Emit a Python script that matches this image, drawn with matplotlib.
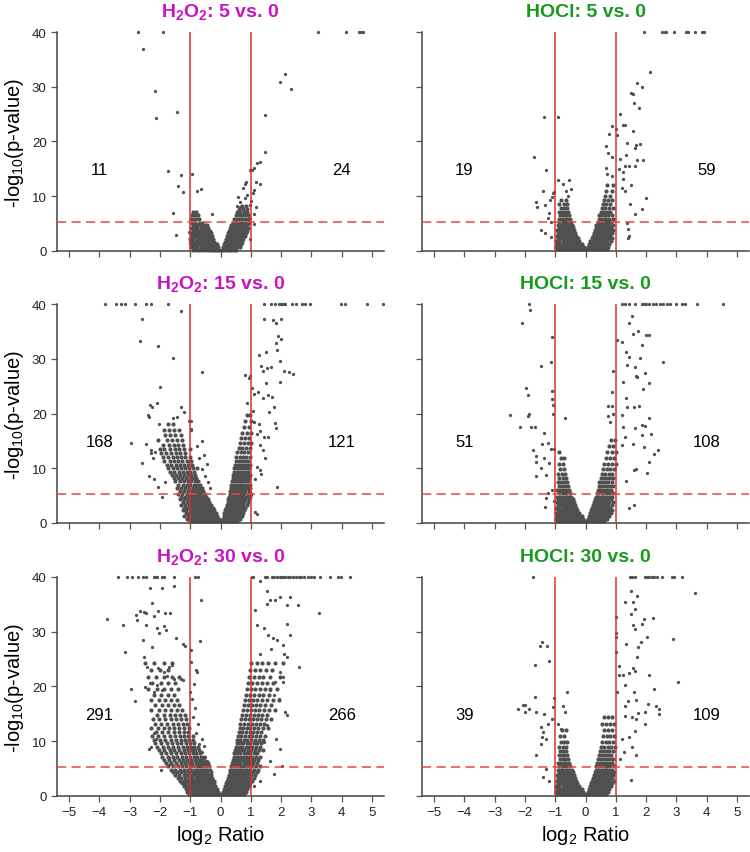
import numpy as np
import matplotlib
matplotlib.use('Agg')
import matplotlib.pyplot as plt

plt.rcParams['font.family'] = ['Liberation Sans', 'DejaVu Sans']
plt.rcParams['mathtext.fontset'] = 'custom'
plt.rcParams['mathtext.rm'] = 'Liberation Sans'
plt.rcParams['mathtext.bf'] = 'Liberation Sans:bold'
plt.rcParams['mathtext.default'] = 'regular'

# panel titles / counts (left, right of the thresholds)
titles = [r'H$_\mathbf{2}$O$_\mathbf{2}$: 5 vs. 0', 'HOCl: 5 vs. 0',
          r'H$_\mathbf{2}$O$_\mathbf{2}$: 15 vs. 0', 'HOCl: 15 vs. 0',
          r'H$_\mathbf{2}$O$_\mathbf{2}$: 30 vs. 0', 'HOCl: 30 vs. 0']
n_down = [11, 19, 168, 51, 291, 39]
n_up = [24, 59, 121, 108, 266, 109]
fc_cut = 1.0
p_cut = 5.3

# ---- H2O2 5 vs 0 ----
h2o2_5_pts = [(-2.73, 40), (-1.90, 40), (3.22, 40), (4.14, 40), (4.59, 40), (4.65, 40), (4.69, 40),
              (-2.56, 36.9), (-2.16, 29.3), (-2.12, 24.3), (-1.45, 25.3), (-1.73, 14.6), (-1.30, 13.8),
              (-1.41, 11.8), (-1.24, 10.8), (-1.58, 7.0), (-1.46, 3.0), (-0.93, 14.1), (-0.77, 11.0),
              (-0.66, 11.4), (-0.29, 6.8), (1.96, 30.9), (2.14, 32.3), (2.34, 29.6), (1.47, 24.9),
              (1.48, 18.0), (1.19, 16.0), (1.31, 16.3), (1.05, 14.8), (0.98, 14.8), (1.11, 15.1),
              (0.85, 12.6), (1.18, 12.6), (1.32, 12.3), (0.80, 12.2), (0.74, 11.5), (1.09, 11.2),
              (1.07, 10.6), (0.86, 10.3), (0.57, 9.8), (1.01, 9.1), (0.99, 8.4), (0.80, 9.6),
              (0.66, 8.9), (0.66, 8.1), (0.53, 8.2), (1.16, 8.0), (1.12, 6.7), (0.97, 6.0),
              (1.10, 4.9), (0.99, 2.1), (-1.02, 1.8), (-1.05, 3.5), (-1.0, 1.5)]
h2o2_5_rows = [(0.2, [-0.92, -0.8, -0.7, -0.6, -0.5, -0.42, -0.33, -0.25, -0.17, -0.1, -0.04,
                      0.05, 0.12, 0.2, 0.28, 0.36, 0.44, 0.52]),
               (0.7, [-0.97, -0.86, -0.76, -0.66, -0.57, -0.47, -0.38, -0.3, -0.22, -0.14, -0.07,
                      0.08, 0.16, 0.24, 0.32, 0.4, 0.48, 0.56, 0.64]),
               (1.2, [-0.99, -0.9, -0.8, -0.7, -0.6, -0.52, -0.43, -0.34, -0.26, -0.18, -0.11,
                      0.12, 0.2, 0.28, 0.36, 0.44, 0.52, 0.6, 0.68]),
               (1.7, [-0.95, -0.85, -0.74, -0.64, -0.55, -0.46, -0.37, -0.28, -0.2,
                      0.15, 0.23, 0.31, 0.39, 0.47, 0.55, 0.63, 0.72]),
               (2.2, [-1.0, -0.9, -0.79, -0.69, -0.59, -0.5, -0.41, -0.32, -0.24,
                      0.18, 0.26, 0.34, 0.42, 0.5, 0.58, 0.66, 0.75]),
               (2.7, [-0.94, -0.84, -0.73, -0.63, -0.54, -0.45, -0.36, -0.28,
                      0.22, 0.3, 0.38, 0.46, 0.54, 0.62, 0.7, 0.8]),
               (3.2, [-0.98, -0.88, -0.78, -0.68, -0.58, -0.49, -0.4, -0.32,
                      0.25, 0.33, 0.41, 0.49, 0.57, 0.65, 0.73, 0.84]),
               (3.7, [-0.92, -0.82, -0.72, -0.62, -0.53, -0.44, -0.36,
                      0.28, 0.36, 0.44, 0.52, 0.6, 0.68, 0.77, 0.88]),
               (4.2, [-0.96, -0.86, -0.76, -0.66, -0.57, -0.48, -0.4,
                      0.31, 0.39, 0.47, 0.55, 0.63, 0.71, 0.8, 0.9]),
               (4.7, [-0.9, -0.8, -0.7, -0.6, -0.5, -0.43,
                      0.35, 0.43, 0.51, 0.59, 0.67, 0.76, 0.86]),
               (5.2, [-0.95, -0.83, -0.72, -0.62, 0.4, 0.48, 0.56, 0.64, 0.73, 0.84, 0.95]),
               (5.8, [-0.98, -0.88, -0.8, -0.7, 0.45, 0.54, 0.63, 0.72, 0.82, 0.92]),
               (6.5, [-0.93, -0.85, -0.75, 0.5, 0.6, 0.7, 0.8, 0.9]),
               (7.1, [-0.9, -0.82, 0.55, 0.66, 0.78, 0.88]),
               (7.6, [0.62, 0.75, 0.86]),
               (8.3, [0.7, 0.83])]

# ---- HOCl 5 vs 0 ----
hocl_5_pts = [(1.92, 40), (2.53, 40), (2.62, 40), (2.66, 40), (2.91, 40), (3.32, 40), (3.40, 40),
              (3.62, 40), (3.84, 40), (3.91, 40), (2.14, 32.7), (1.69, 30.6), (1.86, 29.9),
              (1.51, 28.8), (1.56, 28.7), (1.59, 27.1), (1.76, 26.2), (1.15, 25.0), (0.89, 22.9),
              (1.01, 22.3), (1.24, 23.1), (1.30, 23.0), (1.57, 22.0), (0.79, 21.3), (1.04, 21.2),
              (0.67, 19.1), (1.38, 19.8), (1.67, 19.4), (1.81, 19.5), (1.62, 18.8), (0.74, 17.9),
              (0.86, 17.1), (1.33, 17.6), (1.14, 16.8), (1.71, 16.7), (1.89, 16.7), (1.30, 15.5),
              (1.42, 15.5), (1.23, 14.5), (1.65, 15.5), (1.10, 14.9), (0.68, 15.2), (0.70, 14.0),
              (0.88, 13.7), (1.25, 13.1), (1.49, 12.1), (1.21, 11.5), (1.30, 10.9), (1.99, 9.6),
              (1.86, 7.6), (1.62, 6.8), (1.46, 8.5), (1.37, 5.2), (1.41, 4.0), (1.45, 2.7),
              (1.41, 2.4), (-1.38, 24.5), (-0.90, 24.4), (-1.70, 17.1), (-1.30, 14.8),
              (-1.40, 11.0), (-1.63, 8.9), (-1.61, 8.1), (-1.33, 8.4), (-1.18, 9.3), (-1.08, 10.5),
              (-1.04, 10.8), (-1.11, 9.9), (-0.90, 13.0), (-0.55, 12.9), (-0.75, 12.2),
              (-0.47, 11.4), (-0.64, 11.0), (-0.57, 10.1), (-1.46, 3.8), (-1.34, 3.2),
              (-1.14, 2.6), (-1.13, 5.3), (-1.24, 6.1), (-1.21, 7.0)]
hocl_5_rows = [(0.3, [-0.95, -0.85, -0.75, -0.65, -0.55, -0.46, -0.37, -0.28, -0.19, -0.1, -0.03,
                      0.04, 0.12, 0.2, 0.28, 0.36, 0.44, 0.52, 0.6, 0.7]),
               (0.8, [-0.98, -0.88, -0.78, -0.68, -0.58, -0.49, -0.4, -0.31, -0.22, -0.13, -0.06,
                      0.08, 0.16, 0.24, 0.32, 0.4, 0.48, 0.56, 0.64, 0.74]),
               (1.3, [-0.93, -0.83, -0.73, -0.63, -0.54, -0.45, -0.36, -0.27, -0.18, -0.1,
                      0.12, 0.2, 0.28, 0.36, 0.44, 0.52, 0.6, 0.68, 0.78]),
               (1.8, [-0.96, -0.86, -0.76, -0.66, -0.57, -0.48, -0.39, -0.3, -0.21,
                      0.16, 0.24, 0.32, 0.4, 0.48, 0.56, 0.64, 0.72, 0.84]),
               (2.3, [-0.92, -0.82, -0.72, -0.62, -0.53, -0.44, -0.35, -0.26,
                      0.2, 0.28, 0.36, 0.44, 0.52, 0.6, 0.68, 0.77, 0.88]),
               (2.8, [-0.95, -0.85, -0.75, -0.65, -0.56, -0.47, -0.38, -0.3,
                      0.24, 0.32, 0.4, 0.48, 0.56, 0.64, 0.72, 0.82]),
               (3.3, [-0.9, -0.8, -0.7, -0.61, -0.52, -0.43, -0.34,
                      0.27, 0.35, 0.43, 0.51, 0.59, 0.67, 0.76, 0.87]),
               (3.8, [-0.93, -0.83, -0.73, -0.64, -0.55, -0.46, -0.38,
                      0.3, 0.38, 0.46, 0.54, 0.62, 0.7, 0.8, 0.92]),
               (4.3, [-0.88, -0.78, -0.68, -0.59, -0.5, -0.42,
                      0.33, 0.41, 0.49, 0.57, 0.65, 0.74, 0.85]),
               (4.8, [-0.91, -0.81, -0.71, -0.62, -0.53, -0.45,
                      0.36, 0.44, 0.52, 0.6, 0.68, 0.78, 0.9]),
               (5.3, [-0.86, -0.76, -0.66, -0.57, -0.48, 0.4, 0.48, 0.56, 0.64, 0.73, 0.84]),
               (5.9, [-0.89, -0.79, -0.69, -0.6, -0.52, 0.43, 0.52, 0.6, 0.69, 0.79, 0.92]),
               (6.5, [-0.84, -0.74, -0.64, -0.56, 0.46, 0.55, 0.64, 0.74, 0.86]),
               (7.1, [-0.88, -0.77, -0.67, -0.58, 0.5, 0.6, 0.7, 0.81]),
               (7.8, [-0.82, -0.72, -0.62, 0.53, 0.64, 0.76, 0.9]),
               (8.5, [-0.86, -0.7, -0.6, 0.57, 0.69, 0.82]),
               (9.3, [-0.8, -0.66, 0.6, 0.74, 0.88]),
               (10.1, [0.64, 0.8]),
               (11.0, [0.68, 0.86]),
               (12.0, [0.7, 0.9])]

# ---- H2O2 15 vs 0 ----
h2o2_15_pts = [(-3.82, 40), (-3.46, 40), (-3.30, 40), (-3.16, 40), (-2.81, 40), (-2.47, 40), (-2.29, 40),
               (-1.73, 40), (1.43, 40), (1.67, 40), (1.79, 40), (1.93, 40), (2.0, 40), (2.03, 40),
               (2.09, 40), (2.14, 40), (2.35, 40), (2.51, 40), (2.69, 40), (2.80, 40), (2.97, 40),
               (3.99, 40), (4.12, 40), (4.84, 40), (5.36, 40),
               (-1.32, 38.8), (-2.58, 37.3), (-2.66, 33.3), (-2.07, 32.4), (-1.58, 30.2), (-0.62, 27.6),
               (-1.99, 24.9), (-2.32, 21.5), (-2.26, 21.1), (-2.09, 21.9), (-2.41, 19.7), (-2.37, 19.3),
               (-1.29, 21.2), (-1.22, 20.2), (-1.58, 19.1), (-1.43, 19.4), (-2.03, 18.1), (-0.99, 18.7),
               (-2.95, 14.7), (-2.45, 14.5), (-2.30, 13.4), (-2.18, 8.1), (-2.05, 6.6), (-1.93, 4.7),
               (-1.84, 7.5), (-2.3, 12.7), (-2.23, 11.8), (-2.15, 12.9), (-2.35, 8.5), (-2.6, 11.0),
               (-0.78, 14.0), (-0.62, 14.9), (-0.55, 12.5), (-0.7, 11.8), (-0.45, 10.8), (-0.6, 9.8),
               (-0.5, 8.6), (-0.4, 7.5), (-0.35, 6.4), (-0.96, 16.9), (-0.98, 17.2), (-1.05, 18.6),
               (1.44, 37.3), (1.73, 37.1), (1.82, 36.5), (2.01, 37.3), (1.90, 34.1), (2.01, 33.6),
               (1.82, 32.9), (1.49, 31.2), (1.26, 30.7), (1.85, 31.6), (1.96, 29.6), (1.33, 28.6),
               (1.54, 28.3), (1.67, 28.5), (2.10, 27.8), (2.26, 27.5), (2.41, 27.2), (0.82, 27.1),
               (0.99, 26.9), (0.93, 26.4), (1.42, 27.7), (1.51, 25.5), (1.96, 25.8), (1.05, 24.6),
               (1.23, 24.0), (1.11, 23.5), (1.41, 22.8), (1.58, 23.3), (1.69, 23.1), (1.76, 21.1),
               (0.89, 21.9), (1.07, 20.5), (1.59, 20.3), (1.79, 18.3), (1.82, 17.4), (1.11, 18.5),
               (1.26, 18.0), (1.30, 16.8), (1.19, 16.2), (1.44, 15.8), (1.56, 15.8), (1.32, 14.2),
               (1.41, 13.3), (1.47, 11.8), (1.21, 10.3), (1.32, 9.6), (1.14, 8.0), (1.35, 9.0),
               (1.85, 6.5), (1.21, 1.6), (1.15, 2.1)]
h2o2_15_rows = [(0.3, [-1.0, -0.9, -0.8, -0.7, -0.6, -0.5, -0.42, -0.34, -0.26, -0.18, -0.1, -0.03,
                       0.03, 0.1, 0.17, 0.24, 0.31, 0.38, 0.46, 0.54]),
                (0.8, [-1.1, -1.0, -0.9, -0.8, -0.7, -0.6, -0.52, -0.44, -0.36, -0.28, -0.2, -0.12, -0.05,
                       0.07, 0.14, 0.21, 0.28, 0.35, 0.42, 0.5, 0.58, 0.66]),
                (1.3, [-1.2, -1.08, -0.97, -0.87, -0.77, -0.67, -0.58, -0.5, -0.42, -0.34, -0.26, -0.18, -0.1,
                       0.1, 0.17, 0.24, 0.31, 0.38, 0.45, 0.53, 0.61, 0.7]),
                (1.8, [-1.15, -1.04, -0.94, -0.84, -0.74, -0.65, -0.56, -0.48, -0.4, -0.32, -0.24, -0.15,
                       0.13, 0.2, 0.27, 0.34, 0.41, 0.48, 0.56, 0.64, 0.74]),
                (2.3, [-1.25, -1.13, -1.02, -0.92, -0.82, -0.72, -0.63, -0.54, -0.46, -0.38, -0.3, -0.2,
                       0.16, 0.23, 0.3, 0.37, 0.44, 0.52, 0.6, 0.68, 0.78]),
                (2.8, [-1.2, -1.09, -0.98, -0.88, -0.78, -0.69, -0.6, -0.52, -0.44, -0.36, -0.26,
                       0.19, 0.26, 0.33, 0.4, 0.47, 0.55, 0.63, 0.72, 0.82]),
                (3.3, [-1.3, -1.17, -1.05, -0.95, -0.85, -0.75, -0.66, -0.57, -0.49, -0.41, -0.32,
                       0.22, 0.29, 0.36, 0.43, 0.5, 0.58, 0.66, 0.75, 0.86]),
                (3.8, [-1.24, -1.12, -1.01, -0.91, -0.81, -0.71, -0.62, -0.54, -0.46, -0.37,
                       0.24, 0.31, 0.38, 0.45, 0.53, 0.61, 0.69, 0.78, 0.9]),
                (4.3, [-1.35, -1.21, -1.08, -0.97, -0.87, -0.77, -0.68, -0.59, -0.51, -0.42,
                       0.26, 0.33, 0.4, 0.48, 0.56, 0.64, 0.72, 0.82, 0.94]),
                (4.8, [-1.3, -1.16, -1.04, -0.93, -0.83, -0.73, -0.64, -0.56, -0.47,
                       0.28, 0.35, 0.43, 0.51, 0.59, 0.67, 0.76, 0.86, 0.98]),
                (5.3, [-1.4, -1.26, -1.12, -1.0, -0.9, -0.8, -0.7, -0.61, -0.52,
                       0.3, 0.38, 0.46, 0.54, 0.62, 0.7, 0.79, 0.9, 1.02]),
                (5.8, [-1.34, -1.2, -1.07, -0.96, -0.86, -0.76, -0.67, -0.58,
                       0.32, 0.4, 0.48, 0.56, 0.64, 0.73, 0.82, 0.93]),
                (6.4, [-1.45, -1.3, -1.16, -1.03, -0.92, -0.82, -0.72, -0.62,
                       0.34, 0.42, 0.5, 0.58, 0.67, 0.76, 0.86, 0.97]),
                (7.0, [-1.4, -1.25, -1.12, -1.0, -0.89, -0.79, -0.68,
                       0.36, 0.44, 0.52, 0.6, 0.69, 0.78, 0.88, 0.99]),
                (7.6, [-1.5, -1.35, -1.2, -1.07, -0.96, -0.85, -0.74,
                       0.38, 0.46, 0.54, 0.63, 0.72, 0.81, 0.91]),
                (8.2, [-1.55, -1.42, -1.28, -1.15, -1.02, -0.91, -0.8,
                       0.4, 0.48, 0.57, 0.66, 0.75, 0.84, 0.94]),
                (8.8, [-1.6, -1.47, -1.33, -1.2, -1.08, -0.96, -0.84,
                       0.42, 0.5, 0.59, 0.68, 0.77, 0.87, 0.98]),
                (9.4, [-1.66, -1.52, -1.38, -1.25, -1.12, -1.0, -0.88,
                       0.44, 0.53, 0.62, 0.71, 0.8, 0.9]),
                (10.0, [-1.72, -1.58, -1.44, -1.3, -1.17, -1.04, -0.92, -0.78,
                        0.46, 0.55, 0.64, 0.73, 0.83, 0.93]),
                (10.6, [-1.78, -1.62, -1.48, -1.35, -1.22, -1.08, -0.95,
                        0.48, 0.58, 0.67, 0.77, 0.87, 0.97]),
                (11.3, [-1.85, -1.68, -1.53, -1.39, -1.26, -1.12, -0.98, 0.5, 0.6, 0.7, 0.8, 0.9]),
                (12.0, [-1.9, -1.74, -1.58, -1.44, -1.3, -1.16, -1.0, 0.52, 0.63, 0.74, 0.85, 0.96]),
                (12.7, [-1.96, -1.8, -1.62, -1.47, -1.33, -1.18]),
                (12.9, [0.56, 0.67, 0.78, 0.9]),
                (13.5, [-2.0, -1.85, -1.66, -1.5, -1.36, -1.2, -1.02]),
                (13.7, [0.6, 0.72, 0.84, 0.96]),
                (14.3, [-1.9, -1.7, -1.55, -1.4, -1.25]),
                (14.6, [0.64, 0.77, 0.9, 1.0]),
                (15.2, [-2.05, -1.76, -1.6, -1.44, -1.28]),
                (15.5, [0.68, 0.82, 0.95]),
                (16.1, [-1.82, -1.66, -1.5, -1.32]),
                (16.5, [0.72, 0.88, 1.0]),
                (17.0, [-1.88, -1.7, -1.55, -1.38]),
                (17.5, [0.78, 0.95]),
                (18.0, [-1.75, -1.58]),
                (18.6, [0.82, 1.0]),
                (19.7, [0.86, 0.98])]

# ---- HOCl 15 vs 0 ----
hocl_15_pts = [(-1.87, 40), (1.21, 40), (1.30, 40), (1.43, 40), (1.62, 40), (1.87, 40), (1.93, 40),
               (2.0, 40), (2.11, 40), (2.22, 40), (2.33, 40), (2.46, 40), (2.57, 40), (2.68, 40),
               (2.79, 40), (2.99, 40), (3.19, 40), (3.30, 40), (3.67, 40), (4.53, 40),
               (-1.85, 39.0), (-2.09, 36.6), (-1.10, 34.0), (-1.47, 28.6), (-1.13, 29.4), (-1.98, 24.7),
               (-1.91, 23.3), (-1.12, 24.1), (-1.12, 22.7), (-1.08, 21.6), (-2.51, 19.7), (-1.87, 20.0),
               (-1.89, 19.5), (-2.15, 17.5), (-1.79, 17.5), (-1.67, 17.5), (-1.08, 19.9), (-0.68, 19.1),
               (-1.37, 16.5), (-1.74, 13.4), (-1.43, 14.4), (-1.25, 14.7), (-1.62, 12.3), (-1.65, 11.2),
               (-1.48, 10.0), (-1.63, 8.5), (-1.32, 8.7), (-1.38, 11.9), (-1.15, 13.6), (-1.30, 4.5),
               (-1.33, 2.9), (-1.1, 6.0), (-1.25, 5.5), (-1.05, 4.0), (-1.2, 11.0), (-1.05, 13.5),
               (1.53, 37.9), (1.42, 36.5), (1.73, 35.0), (1.56, 34.6), (1.99, 34.4), (2.11, 34.4),
               (1.88, 32.5), (1.03, 33.5), (1.19, 33.0), (1.35, 31.3), (1.43, 30.4), (1.81, 30.2),
               (2.57, 29.5), (1.62, 28.5), (1.37, 28.8), (1.95, 27.4), (1.67, 26.9), (1.71, 26.6),
               (2.10, 25.6), (0.90, 27.8), (1.23, 25.8), (1.91, 24.5), (0.88, 24.0), (1.34, 22.9),
               (0.74, 21.3), (0.88, 21.3), (1.38, 21.1), (1.59, 21.1), (1.76, 21.3), (0.91, 19.9),
               (0.75, 19.6), (1.20, 19.7), (2.11, 19.1), (0.80, 18.4), (1.86, 17.9), (1.95, 17.8),
               (1.23, 17.6), (1.65, 17.3), (2.16, 16.2), (1.86, 16.1), (1.32, 15.8), (1.93, 13.8),
               (1.58, 14.4), (1.19, 14.2), (2.40, 13.3), (2.25, 12.6), (2.09, 11.1), (1.59, 9.6),
               (1.67, 9.8), (2.03, 9.2), (1.34, 7.7), (1.59, 3.2), (1.45, 2.7)]
hocl_15_rows = [(0.3, [-0.95, -0.85, -0.75, -0.65, -0.56, -0.47, -0.38, -0.29, -0.2, -0.12, -0.05,
                       0.04, 0.12, 0.2, 0.28, 0.36, 0.44, 0.52, 0.6]),
                (0.8, [-0.98, -0.88, -0.78, -0.68, -0.59, -0.5, -0.41, -0.32, -0.23, -0.15, -0.08,
                       0.08, 0.16, 0.24, 0.32, 0.4, 0.48, 0.56, 0.64, 0.72]),
                (1.3, [-0.93, -0.83, -0.73, -0.64, -0.55, -0.46, -0.37, -0.28, -0.19, -0.11,
                       0.12, 0.2, 0.28, 0.36, 0.44, 0.52, 0.6, 0.68, 0.77]),
                (1.8, [-0.97, -0.87, -0.77, -0.67, -0.58, -0.49, -0.4, -0.31, -0.22,
                       0.16, 0.24, 0.32, 0.4, 0.48, 0.56, 0.64, 0.73, 0.83]),
                (2.3, [-0.92, -0.82, -0.72, -0.63, -0.54, -0.45, -0.36, -0.27,
                       0.19, 0.27, 0.35, 0.43, 0.51, 0.59, 0.67, 0.77, 0.88]),
                (2.8, [-0.96, -0.86, -0.76, -0.66, -0.57, -0.48, -0.39, -0.31,
                       0.22, 0.3, 0.38, 0.46, 0.54, 0.62, 0.71, 0.81]),
                (3.3, [-0.91, -0.81, -0.71, -0.62, -0.53, -0.44, -0.35,
                       0.25, 0.33, 0.41, 0.49, 0.57, 0.65, 0.75, 0.86]),
                (3.8, [-0.95, -0.85, -0.75, -0.66, -0.57, -0.48, -0.39,
                       0.28, 0.36, 0.44, 0.52, 0.6, 0.69, 0.79, 0.9]),
                (4.3, [-0.9, -0.8, -0.7, -0.61, -0.52, -0.43, 0.31, 0.39, 0.47, 0.55, 0.63, 0.72, 0.83]),
                (4.8, [-0.94, -0.84, -0.74, -0.65, -0.56, -0.47, 0.34, 0.42, 0.5, 0.58, 0.67, 0.76, 0.87]),
                (5.4, [-0.89, -0.79, -0.69, -0.6, -0.51, 0.37, 0.45, 0.53, 0.62, 0.71, 0.8, 0.92]),
                (6.0, [-0.93, -0.83, -0.73, -0.64, -0.55, 0.4, 0.48, 0.57, 0.66, 0.75, 0.85]),
                (6.7, [-0.88, -0.78, -0.68, -0.59, 0.43, 0.52, 0.61, 0.7, 0.8, 0.91]),
                (7.4, [-0.92, -0.81, -0.71, -0.62, 0.46, 0.55, 0.65, 0.75, 0.86]),
                (8.2, [-0.86, -0.76, -0.66, 0.5, 0.6, 0.7, 0.8, 0.92]),
                (9.0, [-0.9, -0.79, -0.68, 0.54, 0.65, 0.76, 0.88]),
                (9.9, [-0.84, -0.72, 0.58, 0.7, 0.82, 0.95]),
                (10.8, [-0.88, -0.76, 0.62, 0.75, 0.88, 1.0]),
                (11.8, [-0.82, -0.7, 0.66, 0.8, 0.95]),
                (12.9, [-0.86, 0.72, 0.86, 1.0]),
                (14.0, [0.78, 0.92]),
                (15.2, [0.84, 0.98])]

# ---- H2O2 30 vs 0 ----
h2o2_30_pts = [(-3.37, 40), (-3.08, 40), (-2.93, 40), (-2.71, 40), (-2.56, 40), (-2.45, 40), (-2.20, 40),
               (-2.16, 40), (-2.11, 40), (-1.92, 40), (-1.87, 40), (-1.54, 40), (-0.85, 40), (-0.75, 40),
               (1.04, 40), (1.08, 40), (1.46, 40), (1.54, 40), (1.70, 40), (1.78, 40), (1.87, 40),
               (1.96, 40), (2.0, 40), (2.07, 40), (2.14, 40), (2.22, 40), (2.31, 40), (2.40, 40),
               (2.49, 40), (2.58, 40), (2.67, 40), (2.77, 40), (2.88, 40), (3.0, 40), (3.08, 40),
               (3.30, 40), (3.60, 40), (3.87, 40), (3.98, 40), (4.29, 40),
               (-3.74, 32.3), (-3.22, 31.2), (-3.16, 26.3), (-2.95, 19.5), (-2.80, 33.1), (-2.75, 32.2),
               (-2.66, 33.8), (-2.53, 33.6), (-2.45, 33.4), (-2.25, 35.3), (-2.18, 32.9), (-2.05, 33.8),
               (-1.84, 33.4), (-1.67, 33.4), (-2.33, 37.9), (-1.93, 37.9), (-1.52, 38.4), (-2.57, 28.5),
               (-2.27, 27.3), (-2.45, 31.2), (-2.09, 30.6), (-1.87, 31.1), (-2.03, 29.7), (-1.79, 30.3),
               (-1.48, 28.8), (-1.24, 27.7), (-1.18, 27.4), (-0.69, 28.3), (-0.66, 35.8), (-2.53, 25.3),
               (-2.42, 23.6), (-2.07, 23.3), (-1.85, 22.7), (-1.69, 23.6), (-1.60, 23.9), (-1.78, 21.9),
               (-1.52, 21.4), (-1.32, 21.4), (-1.23, 21.2), (-2.51, 19.9), (-2.82, 17.3), (-2.33, 20.7),
               (-2.09, 20.3), (-2.19, 19.0), (-1.92, 19.3), (-0.88, 20.4), (-0.82, 23.1), (-0.79, 22.7),
               (-0.99, 24.5), (-0.97, 26.6), (-1.95, 4.8), (-1.68, 5.9), (-1.54, 4.3), (-2.31, 8.9),
               (-2.36, 8.6), (-2.14, 10.4), (-2.18, 11.5), (-1.70, 7.0),
               (-0.6, 8.0), (-0.5, 7.2), (-0.45, 6.3), (-0.7, 9.5), (-0.8, 11.5), (-0.55, 9.1),
               (-0.75, 13.2), (-0.9, 14.5), (-0.85, 16.0), (-0.95, 17.8), (-1.0, 19.0), (-0.62, 10.4),
               (1.32, 39.2), (1.54, 37.4), (1.63, 35.8), (1.52, 35.1), (1.81, 35.8), (1.98, 36.4),
               (2.18, 34.9), (2.29, 36.4), (2.57, 34.9), (3.24, 33.4), (1.13, 34.0), (1.19, 31.2),
               (1.43, 30.6), (1.57, 29.4), (1.74, 28.8), (1.87, 28.5), (2.07, 27.6), (2.2, 31.5),
               (2.29, 29.4), (2.09, 26.0), (2.18, 25.4), (2.58, 23.5), (1.67, 26.9), (1.32, 26.0),
               (1.98, 22.7), (2.07, 21.7), (2.07, 20.8), (2.12, 15.3), (2.20, 14.7), (1.81, 20.8),
               (1.65, 19.3), (1.76, 18.4), (1.92, 17.8), (1.84, 10.4), (1.96, 8.5), (1.54, 12.9),
               (1.43, 9.8), (1.10, 1.8), (1.78, 4.0), (1.30, 2.8), (1.64, 6.4), (2.03, 5.5)]
h2o2_30_rows = [(0.3, [-1.05, -0.95, -0.85, -0.75, -0.65, -0.56, -0.47, -0.38, -0.29, -0.2, -0.12, -0.05,
                       0.04, 0.12, 0.2, 0.28, 0.36, 0.44, 0.52, 0.6, 0.68, 0.78]),
                (0.8, [-1.1, -1.0, -0.9, -0.8, -0.7, -0.61, -0.52, -0.43, -0.34, -0.25, -0.17, -0.09,
                       0.08, 0.16, 0.24, 0.32, 0.4, 0.48, 0.56, 0.64, 0.73, 0.83]),
                (1.3, [-1.15, -1.04, -0.94, -0.84, -0.74, -0.65, -0.56, -0.47, -0.38, -0.3, -0.22, -0.13,
                       0.12, 0.2, 0.28, 0.36, 0.44, 0.52, 0.6, 0.69, 0.78, 0.88]),
                (1.8, [-1.2, -1.09, -0.98, -0.88, -0.78, -0.69, -0.6, -0.51, -0.42, -0.34, -0.26, -0.17,
                       0.16, 0.24, 0.32, 0.4, 0.48, 0.56, 0.65, 0.74, 0.83, 0.94]),
                (2.3, [-1.28, -1.16, -1.04, -0.93, -0.83, -0.73, -0.64, -0.55, -0.46, -0.38, -0.29, -0.2,
                       0.19, 0.27, 0.35, 0.43, 0.51, 0.6, 0.69, 0.78, 0.88, 0.99]),
                (2.8, [-1.35, -1.22, -1.1, -0.98, -0.88, -0.78, -0.68, -0.59, -0.5, -0.41, -0.32, -0.23,
                       0.22, 0.3, 0.38, 0.46, 0.55, 0.64, 0.73, 0.82, 0.92, 1.04]),
                (3.3, [-1.42, -1.29, -1.16, -1.04, -0.93, -0.82, -0.72, -0.63, -0.54, -0.45, -0.36, -0.27,
                       0.25, 0.33, 0.41, 0.5, 0.59, 0.68, 0.77, 0.87, 0.97, 1.1]),
                (3.8, [-1.5, -1.36, -1.22, -1.1, -0.98, -0.87, -0.77, -0.67, -0.58, -0.49, -0.4, -0.3,
                       0.28, 0.36, 0.45, 0.54, 0.63, 0.72, 0.81, 0.91, 1.02, 1.15]),
                (4.3, [-1.58, -1.43, -1.29, -1.16, -1.03, -0.92, -0.81, -0.71, -0.61, -0.52, -0.43, -0.33,
                       0.3, 0.39, 0.48, 0.57, 0.66, 0.75, 0.85, 0.95, 1.06, 1.2]),
                (4.8, [-1.65, -1.5, -1.35, -1.21, -1.08, -0.96, -0.85, -0.75, -0.65, -0.55, -0.46, -0.36,
                       0.33, 0.42, 0.51, 0.6, 0.69, 0.79, 0.89, 0.99, 1.1, 1.24]),
                (5.4, [-1.72, -1.56, -1.41, -1.27, -1.13, -1.01, -0.9, -0.79, -0.68, -0.58, -0.48, -0.39,
                       0.36, 0.45, 0.54, 0.63, 0.73, 0.83, 0.93, 1.04, 1.16, 1.3]),
                (6.0, [-1.8, -1.63, -1.47, -1.32, -1.18, -1.05, -0.93, -0.82, -0.71, -0.61, -0.51, -0.42,
                       0.38, 0.47, 0.57, 0.66, 0.76, 0.86, 0.97, 1.08, 1.2]),
                (6.6, [-1.86, -1.69, -1.53, -1.38, -1.23, -1.1, -0.97, -0.85, -0.74, -0.64, -0.54,
                       0.41, 0.5, 0.6, 0.7, 0.8, 0.9, 1.01, 1.12, 1.25]),
                (7.2, [-1.92, -1.75, -1.58, -1.43, -1.28, -1.14, -1.01, -0.89, -0.77, -0.66, -0.56,
                       0.43, 0.53, 0.63, 0.73, 0.83, 0.94, 1.05, 1.17, 1.3]),
                (7.8, [-1.98, -1.8, -1.63, -1.47, -1.32, -1.18, -1.04, -0.92, -0.8, -0.69,
                       0.46, 0.56, 0.66, 0.76, 0.87, 0.98, 1.09, 1.21]),
                (8.4, [-2.04, -1.86, -1.68, -1.52, -1.36, -1.22, -1.08, -0.95, -0.83, -0.72,
                       0.48, 0.58, 0.69, 0.79, 0.9, 1.01, 1.13, 1.26, 1.4]),
                (9.0, [-2.1, -1.91, -1.73, -1.56, -1.4, -1.25, -1.11, -0.98, -0.86, -0.74,
                       0.5, 0.61, 0.72, 0.83, 0.94, 1.05, 1.17, 1.3]),
                (9.6, [-2.15, -1.96, -1.78, -1.6, -1.44, -1.29, -1.14, -1.01, -0.88,
                       0.53, 0.64, 0.75, 0.86, 0.97, 1.09, 1.21, 1.35]),
                (10.3, [-2.2, -2.0, -1.82, -1.65, -1.48, -1.32, -1.17, -1.03, -0.9,
                        0.55, 0.66, 0.78, 0.89, 1.01, 1.13, 1.26, 1.42]),
                (11.0, [-2.25, -2.05, -1.86, -1.68, -1.51, -1.35, -1.2, -1.06, -0.92,
                        0.58, 0.69, 0.81, 0.93, 1.05, 1.17, 1.3, 1.48]),
                (11.7, [-2.12, -1.92, -1.73, -1.55, -1.38, -1.22, -1.08,
                        0.6, 0.72, 0.84, 0.96, 1.08, 1.21, 1.35]),
                (12.4, [-2.3, -2.08, -1.88, -1.7, -1.52, -1.36, -1.2, -1.04,
                        0.63, 0.75, 0.87, 0.99, 1.12, 1.25, 1.4, 1.58]),
                (13.2, [-2.16, -1.95, -1.76, -1.58, -1.41, -1.25, -1.1,
                        0.66, 0.78, 0.9, 1.03, 1.16, 1.3, 1.45]),
                (14.0, [-2.24, -2.02, -1.82, -1.63, -1.46, -1.3, -1.14,
                        0.68, 0.81, 0.94, 1.07, 1.2, 1.34, 1.5, 1.68]),
                (14.8, [-2.1, -1.88, -1.68, -1.5, -1.33, -1.18, 0.71, 0.84, 0.97, 1.1, 1.24, 1.38, 1.55]),
                (15.7, [-2.28, -2.04, -1.82, -1.62, -1.44, -1.26,
                        0.74, 0.87, 1.0, 1.14, 1.28, 1.43, 1.6, 1.8]),
                (16.6, [-2.15, -1.92, -1.72, -1.54, -1.36, 0.77, 0.9, 1.04, 1.18, 1.32, 1.48, 1.66]),
                (17.5, [-2.3, -2.04, -1.82, -1.62, -1.44, 0.8, 0.94, 1.08, 1.22, 1.37, 1.53, 1.72, 1.92]),
                (18.5, [-2.2, -1.95, -1.72, -1.52, 0.83, 0.97, 1.11, 1.26, 1.42, 1.6]),
                (19.5, [-2.38, -2.1, -1.85, -1.62, -1.4, 0.86, 1.0, 1.15, 1.3, 1.46, 1.65, 1.86]),
                (20.6, [-2.25, -1.98, -1.74, -1.5, 0.9, 1.05, 1.2, 1.36, 1.54, 1.75]),
                (21.8, [-2.4, -2.12, -1.86, -1.6, -1.38, 0.94, 1.1, 1.26, 1.42, 1.62, 1.98]),
                (23.0, [-2.3, -2.0, -1.72, 0.98, 1.14, 1.32, 1.5, 1.7]),
                (24.3, [-2.48, -2.18, -1.88, -1.6, 1.02, 1.2, 1.38, 1.58, 1.8, 2.05])]

# ---- HOCl 30 vs 0 ----
hocl_30_pts = [(-1.74, 40), (1.47, 40), (1.53, 40), (1.62, 40), (1.95, 40), (2.02, 40), (2.09, 40),
               (2.18, 40), (2.27, 40), (2.36, 40), (2.53, 40), (2.86, 40), (2.93, 40), (3.18, 40),
               (3.63, 37.1), (1.49, 37.4), (1.70, 36.6), (1.56, 35.5), (1.29, 35.4), (1.63, 34.2),
               (1.51, 33.2), (1.0, 32.7), (2.24, 32.6), (1.93, 32.3), (1.86, 31.5), (1.63, 30.5),
               (1.56, 31.2), (2.02, 29.0), (1.01, 29.7), (1.02, 29.1), (2.90, 28.6), (1.84, 28.2),
               (1.73, 27.3), (1.35, 27.7), (1.01, 26.3), (1.70, 25.4), (1.09, 23.8), (1.58, 23.3),
               (1.62, 22.8), (1.43, 22.5), (2.11, 22.1), (3.04, 20.8), (1.23, 22.1), (1.10, 22.1),
               (1.30, 20.2), (2.27, 19.5), (1.03, 19.0), (1.59, 18.9), (1.40, 17.3), (1.67, 17.6),
               (1.32, 16.5), (2.05, 16.8), (2.33, 16.5), (2.42, 15.9), (2.44, 15.0), (1.97, 15.3),
               (1.73, 15.2), (1.54, 14.4), (1.29, 14.6), (1.67, 14.0), (1.96, 13.2), (1.65, 11.8),
               (1.45, 10.7), (1.20, 10.4), (1.52, 8.9), (1.67, 7.5), (1.27, 8.0), (1.15, 6.7),
               (1.51, 2.9), (-1.45, 28.2), (-1.51, 27.4), (-1.26, 27.4), (-1.66, 24.0), (-1.22, 24.7),
               (-1.66, 18.1), (-2.23, 15.9), (-2.07, 16.7), (-2.0, 16.7), (-2.01, 15.3), (-1.88, 15.8),
               (-1.63, 15.4), (-1.38, 15.0), (-1.04, 17.9), (-1.09, 16.2), (-1.12, 14.1), (-1.24, 13.2),
               (-1.48, 12.6), (-1.41, 11.6), (-1.45, 10.7), (-1.62, 7.4), (-1.46, 9.5), (-1.30, 10.4),
               (-0.62, 19.0), (-0.74, 16.5), (-0.67, 15.4), (-0.92, 13.2), (-0.81, 12.3), (-1.41, 3.4),
               (-1.21, 2.8), (-0.97, 1.8), (-1.30, 4.9)]
hocl_30_rows = [(0.3, [-0.95, -0.85, -0.75, -0.65, -0.56, -0.47, -0.38, -0.29, -0.2, -0.12, -0.05,
                       0.04, 0.12, 0.2, 0.28, 0.36, 0.44, 0.52, 0.6, 0.68]),
                (0.8, [-0.98, -0.88, -0.78, -0.68, -0.59, -0.5, -0.41, -0.32, -0.23, -0.15, -0.08,
                       0.08, 0.16, 0.24, 0.32, 0.4, 0.48, 0.56, 0.64, 0.73]),
                (1.3, [-0.93, -0.83, -0.73, -0.64, -0.55, -0.46, -0.37, -0.28, -0.19, -0.11,
                       0.12, 0.2, 0.28, 0.36, 0.44, 0.52, 0.6, 0.68, 0.78]),
                (1.8, [-0.96, -0.86, -0.76, -0.67, -0.58, -0.49, -0.4, -0.31, -0.22,
                       0.15, 0.23, 0.31, 0.39, 0.47, 0.55, 0.64, 0.73, 0.83]),
                (2.3, [-0.92, -0.82, -0.72, -0.63, -0.54, -0.45, -0.36, -0.27,
                       0.18, 0.26, 0.34, 0.42, 0.5, 0.59, 0.68, 0.77, 0.88]),
                (2.8, [-0.95, -0.85, -0.75, -0.66, -0.57, -0.48, -0.39, -0.31,
                       0.21, 0.29, 0.37, 0.45, 0.54, 0.63, 0.72, 0.82, 0.93]),
                (3.3, [-0.9, -0.8, -0.71, -0.62, -0.53, -0.44, -0.35,
                       0.24, 0.32, 0.4, 0.49, 0.58, 0.67, 0.76, 0.86]),
                (3.8, [-0.94, -0.84, -0.74, -0.65, -0.56, -0.47, -0.39,
                       0.27, 0.35, 0.44, 0.53, 0.62, 0.71, 0.8, 0.9]),
                (4.3, [-0.89, -0.79, -0.7, -0.61, -0.52, -0.43, 0.3, 0.38, 0.47, 0.56, 0.65, 0.74, 0.84, 0.95]),
                (4.8, [-0.92, -0.82, -0.73, -0.64, -0.55, -0.46, 0.33, 0.42, 0.51, 0.6, 0.69, 0.78, 0.88]),
                (5.4, [-0.87, -0.78, -0.69, -0.6, -0.51, 0.36, 0.45, 0.54, 0.63, 0.72, 0.82, 0.93]),
                (6.0, [-0.9, -0.81, -0.72, -0.63, -0.54, 0.39, 0.48, 0.57, 0.66, 0.76, 0.86]),
                (6.7, [-0.85, -0.76, -0.67, -0.58, 0.42, 0.51, 0.61, 0.7, 0.8, 0.91]),
                (7.4, [-0.88, -0.79, -0.7, -0.61, 0.45, 0.55, 0.65, 0.75, 0.85]),
                (8.2, [-0.83, -0.73, -0.64, 0.48, 0.58, 0.68, 0.79, 0.9]),
                (9.0, [-0.86, -0.76, -0.66, 0.52, 0.62, 0.73, 0.84, 0.96]),
                (9.9, [-0.8, -0.7, -0.6, 0.55, 0.66, 0.78, 0.9]),
                (10.9, [-0.84, -0.72, 0.58, 0.7, 0.82, 0.95]),
                (12.0, [-0.78, -0.66, 0.62, 0.74, 0.87]),
                (13.2, [0.56, 0.68, 0.8, 0.93]),
                (14.4, [0.62, 0.75, 0.88])]

panels = [(h2o2_5_pts, h2o2_5_rows), (hocl_5_pts, hocl_5_rows),
          (h2o2_15_pts, h2o2_15_rows), (hocl_15_pts, hocl_15_rows),
          (h2o2_30_pts, h2o2_30_rows), (hocl_30_pts, hocl_30_rows)]

magenta = '#c814c0'
green = '#169a1e'
dot = '#505050'
red = '#d8322c'

fig = plt.figure(figsize=(7.5, 8.53), dpi=100)
lefts = [0.076, 0.5627]
bottoms = [0.7046, 0.3857, 0.0657]
w, h = 0.436, 0.2567

for i, (pts, rows) in enumerate(panels):
    r, c = divmod(i, 2)
    ax = fig.add_axes([lefts[c], bottoms[r], w, h])
    # dense core, drawn a bit heavier so it reads as a solid cloud
    cx, cy = [], []
    for yv, row in rows:
        cx += row
        cy += [yv] * len(row)
    ax.scatter(cx, cy, s=9, color=dot, linewidths=0, zorder=2, clip_on=False)
    ax.scatter([p[0] for p in pts], [p[1] for p in pts], s=5.5, color=dot,
               linewidths=0, zorder=2, clip_on=False)
    ax.axvline(-fc_cut, color=red, lw=1.1, zorder=3)
    ax.axvline(fc_cut, color=red, lw=1.1, zorder=3)
    ax.axhline(p_cut, color='#e04848', lw=1.1, ls=(0, (6, 3.5)), zorder=3)

    ax.set_xlim(-5.4, 5.4)
    ax.set_ylim(0, 40)
    ax.set_xticks(range(-5, 6))
    ax.set_yticks([0, 10, 20, 30, 40])
    for s in ['top', 'right']:
        ax.spines[s].set_visible(False)
    for s in ['left', 'bottom']:
        ax.spines[s].set_color('#444444')
        ax.spines[s].set_linewidth(1.1)
    ax.tick_params(direction='out', length=4, width=0.9, color='#555555',
                   labelsize=9.5, labelcolor='#222222')
    if c == 1:
        ax.tick_params(labelleft=False)
    else:
        ax.set_ylabel('-log$_{10}$(p-value)', fontsize=14.5, labelpad=4)
    if r < 2:
        ax.tick_params(labelbottom=False)
    else:
        ax.set_xlabel('log$_2$ Ratio', fontsize=14.5, labelpad=3)

    ax.text(-4, 14.8, str(n_down[i]), ha='center', va='center', fontsize=12)
    ax.text(4, 14.8, str(n_up[i]), ha='center', va='center', fontsize=12)
    ax.text(0.5, 1.095, titles[i], transform=ax.transAxes, ha='center', va='center',
            fontsize=14, fontweight='bold', color=magenta if c == 0 else green)

fig.savefig('out.png', dpi=100)
